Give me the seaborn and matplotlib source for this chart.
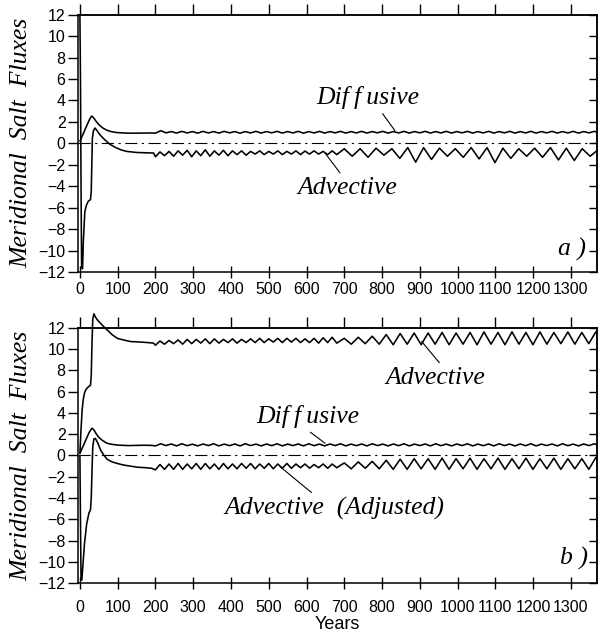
import numpy as np
import pandas as pd
import matplotlib
matplotlib.use("Agg")
import matplotlib.pyplot as plt
from matplotlib.patches import Rectangle
import seaborn as sns

# ---------------- data ----------------
# Panel a) diffusive flux
diff_a_early_years = [0, 5, 10, 15, 20, 25, 31, 36, 42, 50, 60, 70, 80, 90, 100, 115, 130, 150, 170, 190]
diff_a_early = [0.2, 0.6, 1.0, 1.4, 1.8, 2.2, 2.55, 2.4, 2.1, 1.75, 1.45, 1.25, 1.12, 1.05, 1.0, 0.97, 0.95, 0.95, 0.96, 0.97]
diff_a_wiggle = [0.95, 1.18, 0.98, 1.10, 0.96, 1.12, 0.97, 1.10, 0.95, 1.12, 0.97, 1.10, 0.96, 1.12, 0.98, 1.10, 0.95, 1.10, 0.97, 1.12,
                 0.96, 1.10, 0.98, 1.12, 0.96, 1.10, 0.97, 1.12, 0.95, 1.10, 0.97, 1.12, 0.96, 1.10, 0.98, 1.12, 0.96, 1.10, 0.97, 1.12,
                 0.96, 1.10, 0.98, 1.12, 0.96, 1.10, 0.97, 1.12, 0.96, 1.10, 0.98, 1.12, 0.96, 1.10, 0.97, 1.12, 0.96, 1.10, 0.98, 1.12,
                 0.96, 1.10, 0.97, 1.12, 0.96, 1.10, 0.98, 1.12, 0.96, 1.10, 0.97, 1.12, 0.96, 1.10, 0.98, 1.12, 0.96, 1.10, 0.97, 1.12,
                 0.96, 1.10, 0.98, 1.12, 0.97]

# Panel a) advective flux
adv_a_early_years = [0, 1.5, 3, 4.5, 7, 9, 13, 17, 22, 28, 30, 31.5, 33, 36, 40, 45, 52, 61, 70, 80, 95, 110, 124, 150, 175, 195]
adv_a_early = [12.0, 6, -4, -11.6, -11.7, -9.2, -6.4, -5.8, -5.4, -5.25, -4.5, -2.0, 0.5, 1.2, 1.43, 1.2, 0.85, 0.5, 0.2, -0.1,
               -0.4, -0.62, -0.75, -0.85, -0.88, -0.9]
adv_a_wiggle1 = [-1.25, -0.8, -1.15, -0.75, -1.2, -0.7, -1.1, -0.65, -1.25, -0.7,
                 -1.15, -0.6, -1.2, -0.7, -1.1, -0.65, -1.15, -0.7, -1.05, -0.7,
                 -1.1, -0.75, -1.0, -0.7, -1.05, -0.75, -1.0, -0.7, -1.05, -0.75,
                 -1.0, -0.7, -1.05, -0.72, -1.0, -0.7, -1.0, -0.75, -1.05, -0.7,
                 -1.05]
adv_a_wiggle2 = [-0.5, -1.2, -0.5, -1.3, -0.45, -1.1, -0.5, -1.4, -0.4, -1.75,
                 -0.4, -1.5, -0.45, -1.2, -0.5, -1.3, -0.4, -1.45, -0.4, -1.8,
                 -0.45, -1.4, -0.5, -1.2, -0.45, -1.3, -0.4, -1.55, -0.45, -1.6,
                 -0.5, -1.2, -0.6]

# Panel b) advective flux
adv_b_early_years = [0, 3, 6, 9, 12, 16, 21, 28, 30, 32, 34, 37, 41, 47, 55, 63, 72, 85, 99, 115, 134, 160, 180, 195]
adv_b_early = [0.2, 2.5, 4.3, 5.3, 5.85, 6.2, 6.4, 6.6, 7.5, 10.5, 12.8, 13.3, 13.0, 12.7, 12.4, 12.1, 11.8, 11.35, 11.0, 10.85,
               10.7, 10.65, 10.6, 10.55]
adv_b_wiggle1 = [10.35, 10.75, 10.45, 10.8, 10.5, 10.85, 10.45, 10.9, 10.5, 10.9,
                 10.55, 10.95, 10.5, 10.95, 10.55, 10.9, 10.6, 10.95, 10.55, 10.9,
                 10.6, 10.95, 10.6, 11.0, 10.6, 10.95, 10.65, 11.0, 10.6, 11.0,
                 10.65, 11.0, 10.6, 10.95, 10.6, 11.0, 10.55, 11.05, 10.6, 11.1,
                 10.55]
adv_b_wiggle2 = [11.0, 10.45, 11.1, 10.5, 11.2, 10.45, 11.35, 10.4, 11.45, 10.45,
                 11.5, 10.4, 11.5, 10.45, 11.55, 10.4, 11.5, 10.45, 11.55, 10.4,
                 11.6, 10.45, 11.55, 10.4, 11.6, 10.45, 11.55, 10.4, 11.6, 10.45,
                 11.55, 10.5, 11.6, 10.45, 11.55, 10.5, 11.6]

# Panel b) diffusive flux
diff_b_early_years = [0, 5, 10, 15, 20, 25, 32, 37, 43, 50, 60, 72, 80, 90, 100, 115, 130, 150, 170, 190]
diff_b_early = [0.2, 0.6, 1.0, 1.4, 1.8, 2.2, 2.56, 2.4, 2.05, 1.7, 1.4, 1.15, 1.08, 1.02, 0.98, 0.95, 0.93, 0.95, 0.96, 0.95]
diff_b_wiggle = [0.90, 1.10, 0.93, 1.08, 0.90, 1.10, 0.92, 1.06, 0.90, 1.08, 0.93, 1.10, 0.90, 1.07, 0.92, 1.08, 0.90, 1.10, 0.93, 1.07,
                 0.90, 1.08, 0.92, 1.10, 0.90, 1.07, 0.93, 1.08, 0.90, 1.10, 0.92, 1.07, 0.90, 1.08, 0.93, 1.10, 0.90, 1.07, 0.92, 1.08,
                 0.90, 1.10, 0.93, 1.07, 0.90, 1.08, 0.92, 1.10, 0.90, 1.07, 0.93, 1.08, 0.90, 1.10, 0.92, 1.07, 0.90, 1.08, 0.93, 1.10,
                 0.90, 1.07, 0.92, 1.08, 0.90, 1.10, 0.93, 1.07, 0.90, 1.08, 0.92, 1.10, 0.90, 1.07, 0.93, 1.08, 0.90, 1.10, 0.92, 1.07,
                 0.90, 1.08, 0.93, 1.10, 0.92]

# Panel b) advective flux (adjusted)
adj_b_early_years = [0, 1.5, 3, 5, 8, 12, 18, 24, 28, 30, 32, 34, 37, 41, 47, 55, 63, 72, 85, 99, 116, 134, 152, 175, 190]
adj_b_early = [0.0, -6.0, -11.7, -11.7, -10.3, -8.3, -6.4, -5.4, -5.1, -4.0, -1.5, 0.8, 1.55, 1.6, 1.2, 0.5, 0.05, -0.35, -0.6,
               -0.75, -0.9, -1.0, -1.1, -1.15, -1.2]
adj_b_wiggle1 = [-1.35, -0.85, -1.3, -0.8, -1.3, -0.75, -1.3, -0.8, -1.25, -0.75,
                 -1.3, -0.75, -1.25, -0.8, -1.3, -0.75, -1.25, -0.8, -1.25, -0.75,
                 -1.2, -0.75, -1.25, -0.8, -1.2, -0.75, -1.25, -0.8, -1.2, -0.75,
                 -1.2, -0.8, -1.15, -0.8, -1.2, -0.85, -1.15, -0.8, -1.2, -0.8,
                 -1.15]
adj_b_wiggle2 = [-0.7, -1.25, -0.6, -1.2, -0.55, -1.25, -0.45, -1.3, -0.35, -1.3,
                 -0.3, -1.25, -0.3, -1.3, -0.25, -1.3, -0.3, -1.25, -0.25, -1.3,
                 -0.3, -1.25, -0.25, -1.3, -0.3, -1.25, -0.25, -1.3, -0.3, -1.25,
                 -0.25, -1.3, -0.3, -1.25, -0.3, -1.3, -0.2]

x_ticks = list(range(0, 1400, 100))
y_ticks = list(range(-12, 13, 2))


# sample-year grids for the oscillating parts (values above are read at these years)
def grid(start, step, values):
    return list(start + step * np.arange(len(values)))


def series(name, early_years, early_vals, parts):
    yrs = list(early_years)
    vals = list(early_vals)
    for start, step, v in parts:
        yrs += grid(start, step, v)
        vals += list(v)
    return pd.DataFrame({"year": yrs, "flux": vals, "series": name})


df_a = pd.concat([
    series("Diffusive", diff_a_early_years, diff_a_early, [(200, 14, diff_a_wiggle)]),
    series("Advective", adv_a_early_years, adv_a_early, [(200, 12, adv_a_wiggle1), (700, 21, adv_a_wiggle2)]),
], ignore_index=True)

df_b = pd.concat([
    series("Advective", adv_b_early_years, adv_b_early, [(200, 12, adv_b_wiggle1), (700, 18.5, adv_b_wiggle2)]),
    series("Diffusive", diff_b_early_years, diff_b_early, [(200, 14, diff_b_wiggle)]),
    series("Advective (Adjusted)", adj_b_early_years, adj_b_early, [(200, 12, adj_b_wiggle1), (700, 18.5, adj_b_wiggle2)]),
], ignore_index=True)

# ---------------- style ----------------
sns.set_theme(style="ticks")
plt.rcParams['font.family'] = ['Liberation Sans', 'DejaVu Sans']
plt.rcParams['axes.unicode_minus'] = True
SERIF = ['Liberation Serif', 'DejaVu Serif']

fig = plt.figure(figsize=(6.02, 6.40), dpi=100)
fig.patch.set_facecolor("white")
ax_a = fig.add_axes([0.1296, 0.575, 0.862, 0.402])
ax_b = fig.add_axes([0.1296, 0.0886, 0.862, 0.3994])

for ax, df, lpad in ((ax_a, df_a, 3), (ax_b, df_b, 8)):
    sns.lineplot(data=df, x="year", y="flux", units="series", estimator=None, sort=False,
                 color="black", lw=1.15, legend=False, ax=ax)
    # let curves overshoot the top of the frame (as in the original), but not the sides
    clip = Rectangle((0, 0), 1, 1.15, transform=ax.transAxes, facecolor="none", edgecolor="none")
    ax.add_patch(clip)
    clip.set_visible(False)
    for ln in ax.lines:
        ln.set_clip_path(clip)
    ax.axhline(0, color="black", lw=0.8, ls=(0, (11, 4, 2, 4)))
    ax.set_xlim(-5, 1369)
    ax.set_ylim(-12, 12)
    ax.set_xticks(x_ticks)
    ax.set_yticks(y_ticks)
    ax.tick_params(axis="x", direction="inout", length=8, width=1, labelsize=11.5, pad=lpad, colors="black")
    ax.tick_params(axis="y", direction="out", length=7, width=1, labelsize=11.5, pad=2, colors="black")
    for s in ax.spines.values():
        s.set_visible(True)
        s.set_color("black")
        s.set_linewidth(1.1)
    top = ax.secondary_xaxis("top")
    top.set_xticks(x_ticks)
    top.tick_params(direction="out", length=8, width=1, labeltop=False, colors="black")
    right = ax.secondary_yaxis("right")
    right.set_yticks(y_ticks)
    right.tick_params(direction="in", length=6, width=1, labelright=False, colors="black")
    ax.set_ylabel("Meridional  Salt  Fluxes", fontsize=18.5, style="italic", family=SERIF, color="black")
    ax.yaxis.set_label_coords(-0.088, 0.5)
    ax.set_xlabel("")

ax_b.set_xlabel("Years", fontsize=13, color="black", labelpad=1)

ann = dict(ha="center", va="center", fontsize=18.5, style="italic", family=SERIF, color="black")
DIFF = "Dif\u2009f\u2009usive"

ax_a.annotate(DIFF, xy=(834, 1.19), xytext=(763, 4.25),
              arrowprops=dict(arrowstyle="-", lw=0.8, color="black", relpos=(0.61, 0.0), shrinkA=1, shrinkB=0), **ann)
ax_a.annotate("Advective", xy=(649, -0.9), xytext=(708, -4.19),
              arrowprops=dict(arrowstyle="-", lw=0.8, color="black", relpos=(0.46, 1.0), shrinkA=1, shrinkB=0), **ann)
ax_a.text(1303, -9.9, "a )", **ann)

ax_b.annotate("Advective", xy=(905, 10.7), xytext=(940, 7.27),
              arrowprops=dict(arrowstyle="-", lw=0.8, color="black", relpos=(0.58, 1.0), shrinkA=1, shrinkB=0), **ann)
ax_b.annotate(DIFF, xy=(649, 1.15), xytext=(604, 3.65),
              arrowprops=dict(arrowstyle="-", lw=0.8, color="black", relpos=(0.47, 0.0), shrinkA=1, shrinkB=0), **ann)
ax_b.annotate("Advective  (Adjusted)", xy=(530, -1.05), xytext=(673, -4.95),
              arrowprops=dict(arrowstyle="-", lw=0.8, color="black", relpos=(0.42, 1.0), shrinkA=1, shrinkB=0), **ann)
ax_b.text(1309, -9.7, "b )", **ann)

fig.savefig("out.png", dpi=100, facecolor="white")
